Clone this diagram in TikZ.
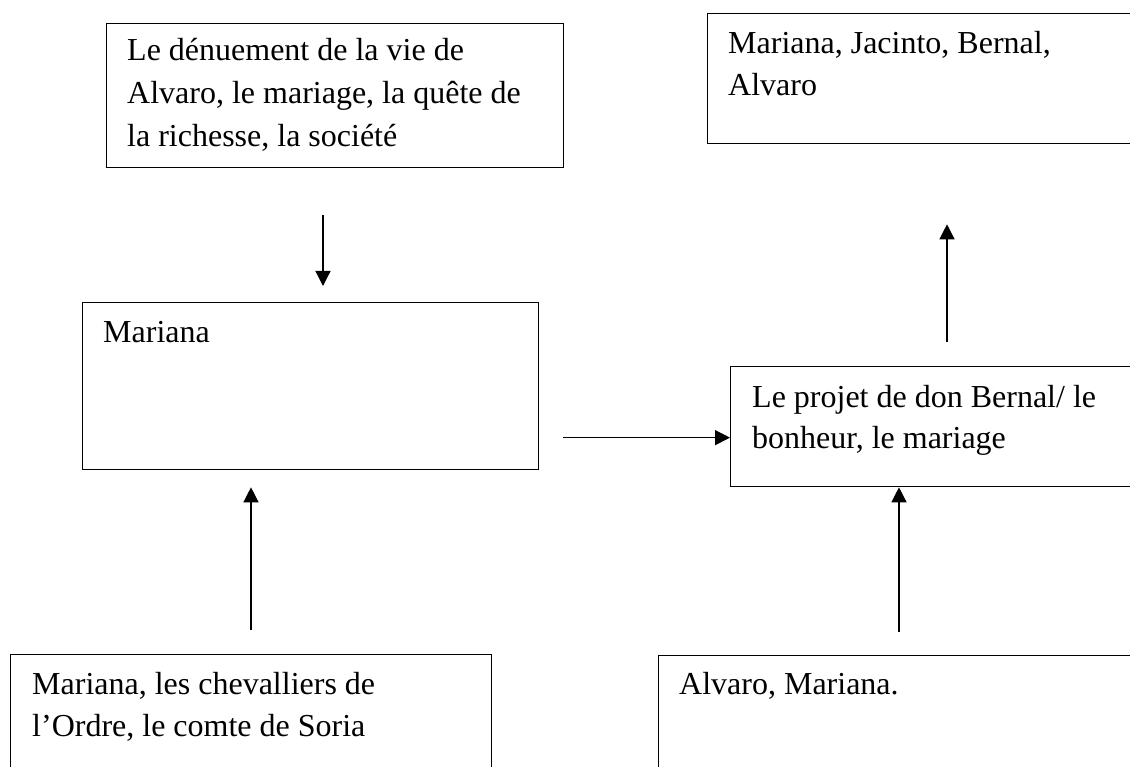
\documentclass[tikz,border=0pt]{standalone}
\usepackage{fontspec}
\setmainfont{Liberation Serif}
\usetikzlibrary{arrows.meta,calc}
\begin{document}
\begin{tikzpicture}[x=1pt,y=-1pt,
  box/.style={draw=black, line width=1.3pt, inner sep=0pt, anchor=north west},
  txt/.style={inner sep=0pt, anchor=base west, font=\fontsize{32pt}{42pt}\selectfont},
  arr/.style={line width=1.3pt, -{Triangle[length=15pt,width=15pt]}}]
\clip (0,0) rectangle (1130,767);
\fill[white] (0,0) rectangle (1130,767);
% boxes
\node[box, minimum width=457pt, minimum height=144pt] (b1) at (106,23) {};
\node[box, minimum width=460pt, minimum height=130pt] (b2) at (707,13) {};
\node[box, minimum width=456pt, minimum height=167pt] (m)  at (82,302) {};
\node[box, minimum width=440pt, minimum height=120pt] (p)  at (730,366) {};
\node[box, minimum width=481pt, minimum height=150pt] (bl) at (10,654) {};
\node[box, minimum width=500pt, minimum height=150pt] (br) at (658,655) {};
% texts
\node[txt] (b1t1) at (127,61)  {Le dénuement de la vie de};
\node[txt] (b1t2) at (127,104) {Alvaro, le mariage, la quête de};
\node[txt] (b1t3) at (127,147) {la richesse, la société};
\node[txt] (b2t1) at (728,54)  {Mariana, Jacinto, Bernal,};
\node[txt] (b2t2) at (728,96)  {Alvaro};
\node[txt] (mt1)  at (103,342) {Mariana};
\node[txt] (pt1)  at (752,407) {Le projet de don Bernal/ le};
\node[txt] (pt2)  at (752,448) {bonheur, le mariage};
\node[txt] (blt1) at (32,694)  {Mariana, les chevalliers de};
\node[txt] (blt2) at (32,736)  {l’Ordre, le comte de Soria};
\node[txt] (brt1) at (679,694) {Alvaro, Mariana.};
% connectors
\coordinate (a1s) at ([shift={(217pt,-47pt)}]b1.south west);
\coordinate (a1e) at ([shift={(241pt,16pt)}]m.north west);
\draw[arr] (a1s) -- (a1e);
\coordinate (a2s) at ([shift={(24pt,-51.5pt)}]m.east);
\coordinate (a2e) at ([yshift=-11pt]p.west);
\draw[arr] (a2s) -- (a2e);
\coordinate (a3s) at ([shift={(217pt,24pt)}]p.north west);
\coordinate (a3e) at ([shift={(240pt,-80pt)}]b2.south west);
\draw[arr] (a3s) -- (a3e);
\coordinate (a4s) at ([shift={(241pt,24pt)}]bl.north west);
\coordinate (a4e) at ([shift={(169pt,-17pt)}]m.south west);
\draw[arr] (a4s) -- (a4e);
\coordinate (a5s) at ([shift={(241pt,23pt)}]br.north west);
\coordinate (a5e) at ([shift={(169pt,0pt)}]p.south west);
\draw[arr] (a5s) -- (a5e);
\end{tikzpicture}
\end{document}
